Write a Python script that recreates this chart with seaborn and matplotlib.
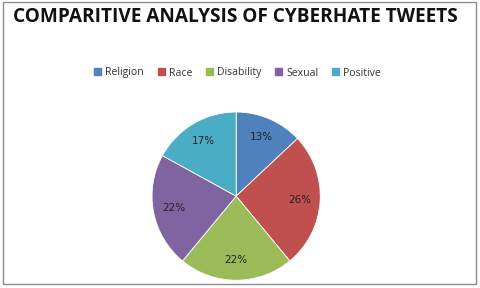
import matplotlib
matplotlib.use("Agg")
import matplotlib.pyplot as plt
import matplotlib.patches as mpatches
import seaborn as sns

categories = ["Religion", "Race", "Disability", "Sexual", "Positive"]
values = [13, 26, 22, 22, 17]
colors = ["#4F81BD", "#C0504D", "#9BBB59", "#8064A2", "#4BACC6"]
title = "COMPARITIVE ANALYSIS OF CYBERHATE TWEETS"

sns.set_theme(style="white")
plt.rcParams['font.family'] = ['Open Sans', 'DejaVu Sans']

fig = plt.figure(figsize=(4.8, 2.88), dpi=100)
fig.patch.set_facecolor("white")

# outer frame
fig.patches.append(mpatches.Rectangle((0.006, 0.015), 0.985, 0.978, transform=fig.transFigure,
                                      fill=False, edgecolor="#8c8c8c", linewidth=1.0))

ax = fig.add_axes([0.315, 0.024, 0.354, 0.590])
pal = sns.color_palette(colors)
wedges, texts, autotexts = ax.pie(values, colors=pal, startangle=90, counterclock=False,
                                  autopct=lambda p: f"{p:.0f}%", pctdistance=0.76,
                                  wedgeprops=dict(edgecolor="white", linewidth=0.6),
                                  textprops=dict(fontsize=7.5, color="#222222",
                                                 family=['DejaVu Sans']))
ax.set_aspect("equal")
ax.set_xlim(-1.01, 1.01)
ax.set_ylim(-1.01, 1.01)

fig.text(0.49, 1 - 17 / 288, title, ha="center", va="center", fontsize=13.7,
         fontweight="bold", color="#111111")

handles = [mpatches.Patch(color=c, label=l) for c, l in zip(colors, categories)]
fig.legend(handles=handles, loc="center", bbox_to_anchor=(0.495, 1 - 73 / 288), ncol=5,
           frameon=False, fontsize=7.6, handlelength=0.65, handleheight=0.65,
           handletextpad=0.4, columnspacing=1.3, labelcolor="#333333")

fig.savefig("out.png", dpi=100, facecolor="white")
